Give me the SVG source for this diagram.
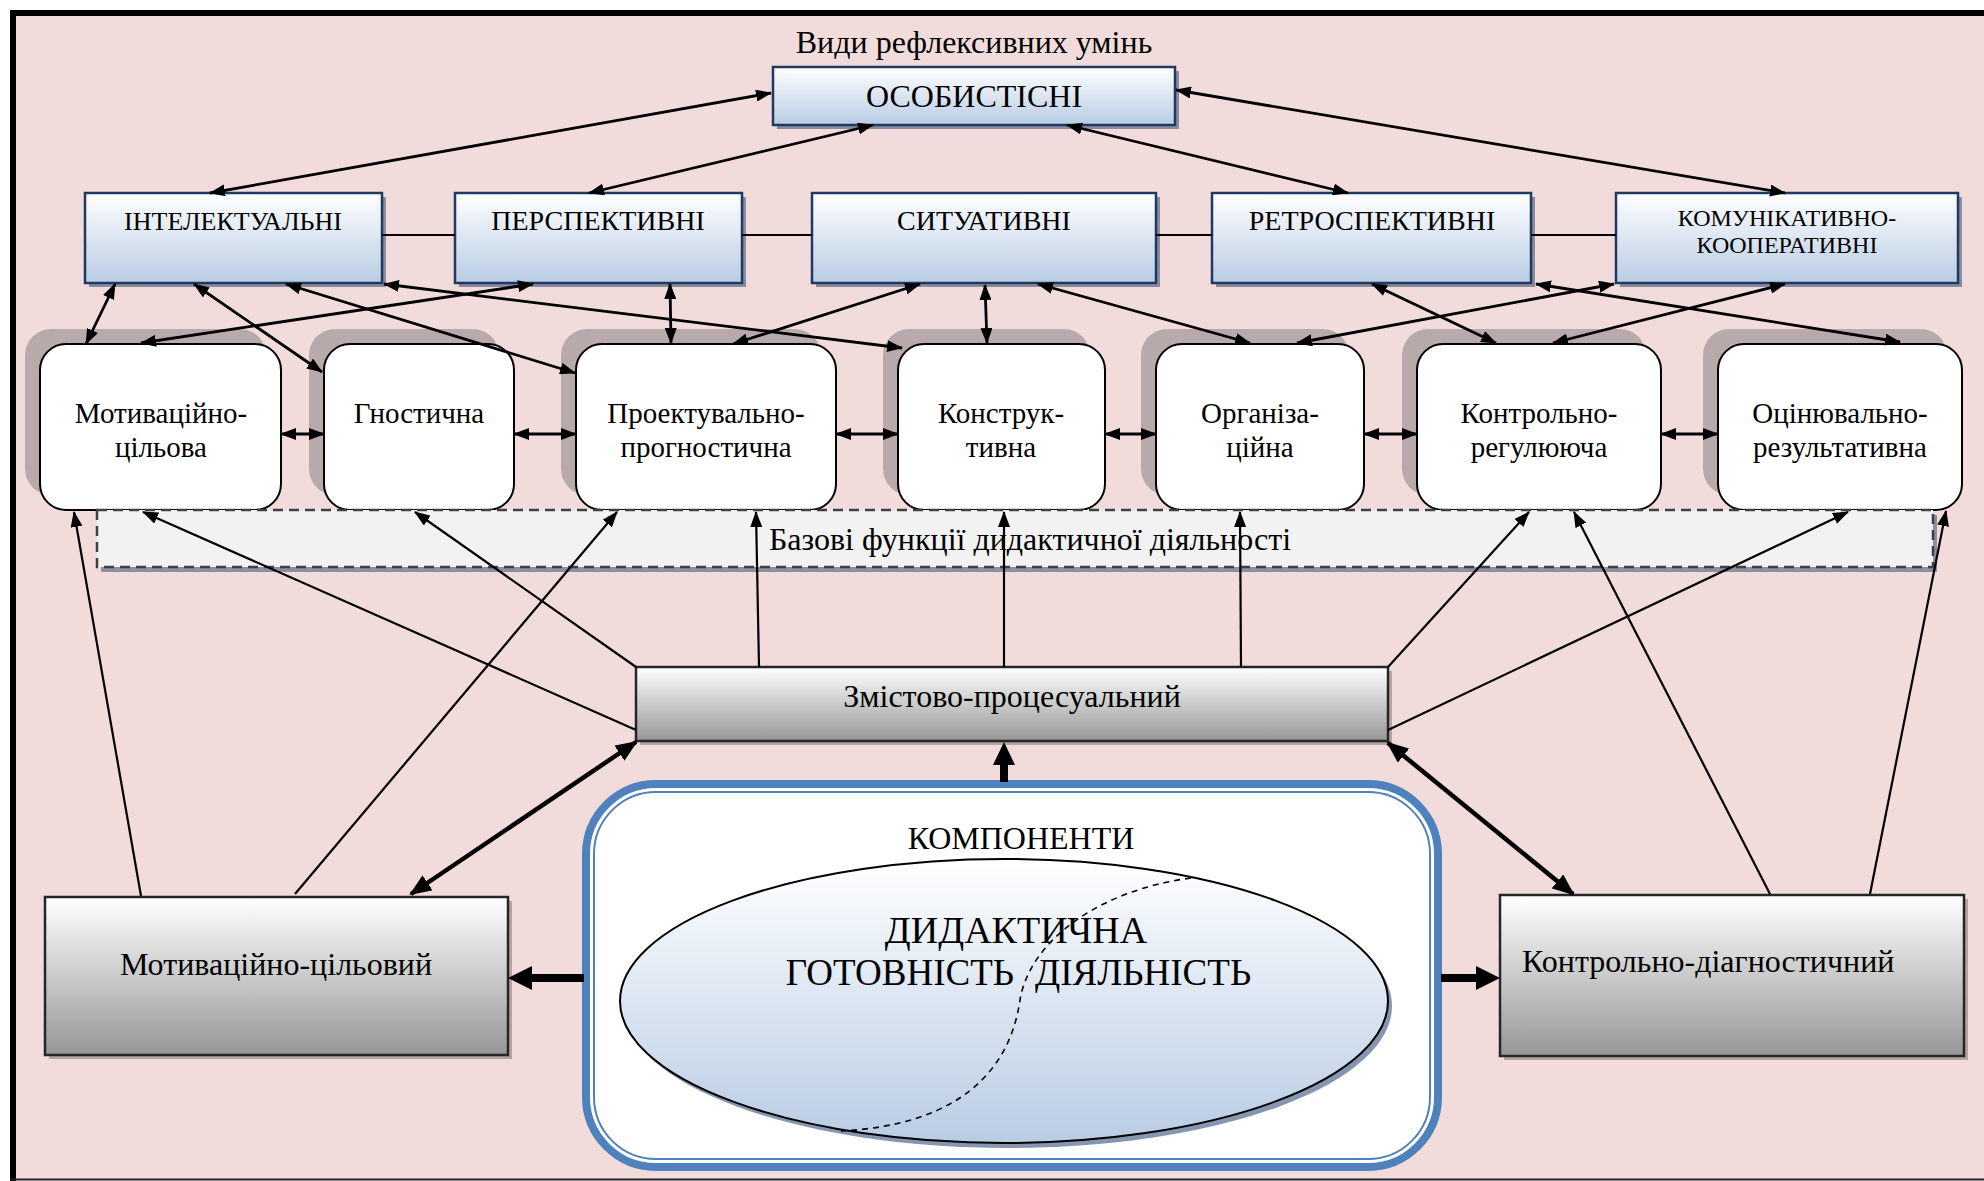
<svg xmlns="http://www.w3.org/2000/svg" width="1984" height="1181" viewBox="0 0 1984 1181">
<defs>
<linearGradient id="gBlue" x1="0" y1="0" x2="0" y2="1"><stop offset="0" stop-color="#ffffff"/><stop offset="1" stop-color="#b8cce4"/></linearGradient>
<linearGradient id="gGray" x1="0" y1="0" x2="0" y2="1"><stop offset="0" stop-color="#ffffff"/><stop offset="1" stop-color="#969696"/></linearGradient>
<linearGradient id="gEll" x1="0" y1="0" x2="0" y2="1"><stop offset="0" stop-color="#ffffff"/><stop offset="1" stop-color="#b8cce4"/></linearGradient>
<marker id="ah" markerUnits="userSpaceOnUse" viewBox="0 0 16 12" markerWidth="16" markerHeight="12" refX="15" refY="6" orient="auto-start-reverse"><path d="M0,0 L16,6 L0,12 z" fill="#000"/></marker>
<marker id="ahL" markerUnits="userSpaceOnUse" viewBox="0 0 22 18" markerWidth="22" markerHeight="18" refX="20" refY="9" orient="auto-start-reverse"><path d="M0,0 L22,9 L0,18 z" fill="#000"/></marker>
</defs>
<style>
text{font-family:"Liberation Serif","Times New Roman",serif;fill:#000}
.c{text-anchor:middle}
.b2{fill:url(#gBlue);stroke:#1f3a60;stroke-width:2.5}
.sh2{fill:#8b8b9c}
.rb{fill:#fff;stroke:#000;stroke-width:2}
.rsh{fill:#b8aaaa}
.gb{fill:url(#gGray);stroke:#262626;stroke-width:2.5}
.gsh{fill:#b3a5a5}
.l1{stroke:#000;stroke-width:2;fill:none}
.ar{stroke:#000;stroke-width:2.8;fill:none;marker-start:url(#ah);marker-end:url(#ah)}
.ae{stroke:#000;stroke-width:2.2;fill:none;marker-end:url(#ah)}
.aL{stroke:#000;stroke-width:4.5;fill:none;marker-start:url(#ahL);marker-end:url(#ahL)}
.f28{font-size:28px}.f29{font-size:29px}.f32{font-size:32px}
</style>
<rect x="0" y="0" width="1984" height="1181" fill="#ffffff"/>
<rect x="16" y="16" width="1968" height="1163" fill="#f2dcdb"/>
<rect x="10" y="10" width="6" height="1171" fill="#000"/>
<rect x="10" y="10" width="1974" height="6" fill="#000"/>
<rect x="10" y="1178.5" width="1974" height="2" fill="#222"/>

<text class="c f32" x="974" y="53">Види рефлексивних умінь</text>

<!-- row 1 -->
<g id="osobystisni">
<rect class="sh2" x="777" y="71" width="402" height="58"/>
<rect class="b2" x="773" y="67" width="402" height="58"/>
<text class="c f32" x="974" y="107">ОСОБИСТІСНІ</text>
</g>

<!-- row 2 -->
<g id="intelektualni">
<rect class="sh2" x="89" y="197" width="297" height="90"/>
<rect class="b2" x="85" y="193" width="297" height="90"/>
<text class="c" font-size="26" x="233" y="230">ІНТЕЛЕКТУАЛЬНІ</text>
</g>
<g id="perspektyvni">
<rect class="sh2" x="459" y="197" width="287" height="90"/>
<rect class="b2" x="455" y="193" width="287" height="90"/>
<text class="c f28" x="598" y="230">ПЕРСПЕКТИВНІ</text>
</g>
<g id="sytuatyvni">
<rect class="sh2" x="816" y="197" width="344" height="90"/>
<rect class="b2" x="812" y="193" width="344" height="90"/>
<text class="c f28" x="984" y="230">СИТУАТИВНІ</text>
</g>
<g id="retrospektyvni">
<rect class="sh2" x="1216" y="197" width="319" height="90"/>
<rect class="b2" x="1212" y="193" width="319" height="90"/>
<text class="c f28" x="1372" y="230">РЕТРОСПЕКТИВНІ</text>
</g>
<g id="komunikatyvni">
<rect class="sh2" x="1620" y="197" width="342" height="90"/>
<rect class="b2" x="1616" y="193" width="342" height="90"/>
<text class="c" font-size="24" x="1787" y="226">КОМУНІКАТИВНО-</text>
<text class="c" font-size="24" x="1787" y="253">КООПЕРАТИВНІ</text>
</g>

<!-- row 3 -->
<g id="motyv-tsilova">
<rect class="rsh" x="25" y="329" width="241" height="166" rx="26"/>
<rect class="rb" x="40" y="344" width="241" height="166" rx="26"/>
<text class="c f29" x="161" y="423">Мотиваційно-</text>
<text class="c f29" x="161" y="457">цільова</text>
</g>
<g id="gnostychna">
<rect class="rsh" x="309" y="329" width="190" height="166" rx="26"/>
<rect class="rb" x="324" y="344" width="190" height="166" rx="26"/>
<text class="c f29" x="419" y="423">Гностична</text>
</g>
<g id="proektuvalno">
<rect class="rsh" x="561" y="329" width="260" height="166" rx="26"/>
<rect class="rb" x="576" y="344" width="260" height="166" rx="26"/>
<text class="c f29" x="706" y="423">Проектувально-</text>
<text class="c f29" x="706" y="457">прогностична</text>
</g>
<g id="konstruktyvna">
<rect class="rsh" x="883" y="329" width="207" height="166" rx="26"/>
<rect class="rb" x="898" y="344" width="207" height="166" rx="26"/>
<text class="c f29" x="1001" y="423">Конструк-</text>
<text class="c f29" x="1001" y="457">тивна</text>
</g>
<g id="organizatsiyna">
<rect class="rsh" x="1141" y="329" width="208" height="166" rx="26"/>
<rect class="rb" x="1156" y="344" width="208" height="166" rx="26"/>
<text class="c f29" x="1260" y="423">Організа-</text>
<text class="c f29" x="1260" y="457">ційна</text>
</g>
<g id="kontrolno-reguliuiucha">
<rect class="rsh" x="1402" y="329" width="244" height="166" rx="26"/>
<rect class="rb" x="1417" y="344" width="244" height="166" rx="26"/>
<text class="c f29" x="1539" y="423">Контрольно-</text>
<text class="c f29" x="1539" y="457">регулююча</text>
</g>
<g id="otsiniuvalno">
<rect class="rsh" x="1703" y="329" width="244" height="166" rx="26"/>
<rect class="rb" x="1718" y="344" width="244" height="166" rx="26"/>
<text class="c f29" x="1840" y="423">Оцінювально-</text>
<text class="c f29" x="1840" y="457">результативна</text>
</g>

<!-- base functions dashed band -->
<g id="base">
<rect x="101" y="515" width="1836" height="57" fill="#8e8ea0"/>
<rect x="97" y="510" width="1836" height="57" fill="#f2f2f2" stroke="#404040" stroke-width="2.5" stroke-dasharray="10 6"/>
<text class="c f32" x="1030" y="550">Базові функції дидактичної діяльності</text>
</g>

<!-- components -->
<g id="zmistovo">
<rect class="gsh" x="640" y="671" width="752" height="74"/>
<rect class="gb" x="636" y="667" width="752" height="74"/>
<text class="c f32" x="1012" y="707">Змістово-процесуальний</text>
</g>
<g id="motyv-tsiloviy">
<rect class="gsh" x="49" y="901" width="463" height="158"/>
<rect class="gb" x="45" y="897" width="463" height="158"/>
<text class="c f32" x="276" y="975">Мотиваційно-цільовий</text>
</g>
<g id="kontrolno-diagnostychnyi">
<rect class="gsh" x="1504" y="899" width="464" height="161"/>
<rect class="gb" x="1500" y="895" width="464" height="161"/>
<text class="f32" x="1522" y="972">Контрольно-діагностичний</text>
</g>

<g id="komponenty">
<rect x="586" y="784" width="852" height="383" rx="70" fill="#fff" stroke="#4f81bd" stroke-width="8"/>
<rect x="594" y="792" width="836" height="367" rx="62" fill="#fff" stroke="#4f81bd" stroke-width="2"/>
<text class="c f32" x="1021" y="849">КОМПОНЕНТИ</text>
<ellipse cx="1008" cy="1006" rx="384" ry="142" fill="#8496b0"/>
<ellipse cx="1004" cy="1001" rx="384" ry="142" fill="url(#gEll)" stroke="#000" stroke-width="2"/>
<path d="M1191,878 C1100,890 1030,940 1020,1000 C1010,1070 960,1125 841,1131" fill="none" stroke="#000" stroke-width="1.6" stroke-dasharray="6 5"/>
<text class="c" font-size="38" x="1016" y="943">ДИДАКТИЧНА</text>
<text font-size="37" y="985"><tspan x="1014" text-anchor="end">ГОТОВНІСТЬ</tspan><tspan x="1035" text-anchor="start">ДІЯЛЬНІСТЬ</tspan></text>
</g>

<!-- connectors -->
<g id="connectors">
<line class="l1" x1="382" y1="235" x2="455" y2="235"/>
<line class="l1" x1="742" y1="235" x2="812" y2="235"/>
<line class="l1" x1="1156" y1="235" x2="1212" y2="235"/>
<line class="l1" x1="1531" y1="235" x2="1616" y2="235"/>
<!-- top level -->
<line class="ar" x1="771" y1="93" x2="210" y2="193"/>
<line class="ar" x1="873" y1="125" x2="589" y2="193"/>
<line class="ar" x1="1067" y1="125" x2="1348" y2="193"/>
<line class="ar" x1="1176" y1="90" x2="1785" y2="193"/>
<!-- row2 to row3 -->
<line class="ar" x1="115" y1="284" x2="86" y2="344"/>
<line class="ar" x1="194" y1="284" x2="322" y2="372"/>
<line class="ar" x1="286" y1="284" x2="575" y2="373"/>
<line class="ar" x1="384" y1="284" x2="902" y2="348"/>
<line class="ar" x1="533" y1="284" x2="141" y2="343"/>
<line class="ar" x1="670" y1="284" x2="671" y2="343"/>
<line class="ar" x1="920" y1="284" x2="733" y2="344"/>
<line class="ar" x1="985" y1="285" x2="987" y2="343"/>
<line class="ar" x1="1038" y1="284" x2="1250" y2="343"/>
<line class="ar" x1="1372" y1="284" x2="1496" y2="343"/>
<line class="ar" x1="1536" y1="284" x2="1900" y2="342"/>
<line class="ar" x1="1614" y1="284" x2="1297" y2="343"/>
<line class="ar" x1="1785" y1="284" x2="1553" y2="343"/>
<!-- row3 horizontal -->
<line class="ar" x1="281" y1="434" x2="324" y2="434"/>
<line class="ar" x1="514" y1="434" x2="576" y2="434"/>
<line class="ar" x1="836" y1="434" x2="898" y2="434"/>
<line class="ar" x1="1105" y1="434" x2="1156" y2="434"/>
<line class="ar" x1="1364" y1="434" x2="1417" y2="434"/>
<line class="ar" x1="1661" y1="434" x2="1718" y2="434"/>
<!-- from lower boxes to functions -->
<line class="ae" x1="141" y1="896" x2="74" y2="512"/>
<line class="ae" x1="295" y1="894" x2="617" y2="512"/>
<line class="ae" x1="636" y1="667" x2="415" y2="512"/>
<line class="ae" x1="636" y1="730" x2="143" y2="512"/>
<line class="ae" x1="759" y1="667" x2="756" y2="512"/>
<line class="ae" x1="1004" y1="667" x2="1004" y2="512"/>
<line class="ae" x1="1241" y1="667" x2="1240" y2="512"/>
<line class="ae" x1="1388" y1="667" x2="1529" y2="512"/>
<line class="ae" x1="1388" y1="730" x2="1848" y2="512"/>
<line class="ae" x1="1770" y1="894" x2="1574" y2="512"/>
<line class="ae" x1="1870" y1="894" x2="1946" y2="511"/>
<!-- thick -->
<line class="aL" x1="636" y1="742" x2="411" y2="894"/>
<line class="aL" x1="1388" y1="743" x2="1573" y2="894"/>
<polygon points="1000,782 1000,765 993,765 1004,742 1015,765 1008,765 1008,782" fill="#000"/>
<polygon points="584,974 532,974 532,966 508,978 532,990 532,982 584,982" fill="#000"/>
<polygon points="1441,974 1476,974 1476,966 1500,978 1476,990 1476,982 1441,982" fill="#000"/>
</g>
</svg>
